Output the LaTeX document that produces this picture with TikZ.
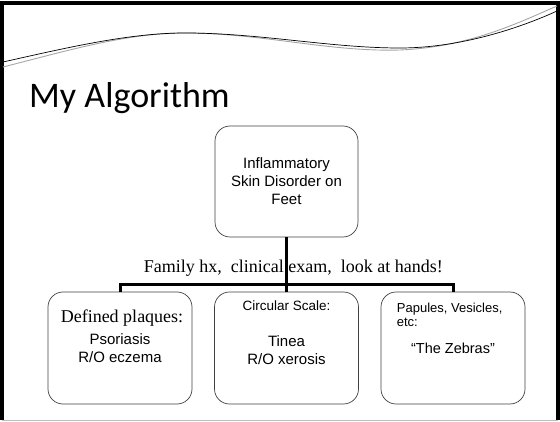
\documentclass[tikz,border=0pt]{standalone}
\usepackage{fontspec}
\setmainfont{Liberation Sans}
\newfontfamily\serif{Liberation Serif}
\newfontfamily\titlefont{Carlito}
\usetikzlibrary{positioning}

\tikzset{
  box/.style={draw=black!75, line width=0.7pt, rounded corners=15pt,
    minimum width=144pt, minimum height=112pt, inner sep=0pt},
  conn/.style={line width=3pt},
  every node/.append style={inner sep=0pt}
}

\begin{document}
\begin{tikzpicture}[x=1pt,y=-1pt]
\useasboundingbox (0,0) rectangle (560,422);
% slide frame
\draw[line width=3.5pt] (2,420) -- (2,3) -- (558,3) -- (558,420);
\draw[black!25, line width=1pt] (2,420.5) -- (558,420.5);
% wave
\draw[black!35, line width=0.9pt] (3,67) .. controls (70,50) and (130,32) .. (190,33)
  .. controls (265,34) and (330,52) .. (400,50) .. controls (470,47) and (520,22) .. (557,6);
\draw[line width=0.7pt] (3,62) .. controls (70,47) and (130,33) .. (185,33)
  .. controls (260,33) and (330,48) .. (400,48) .. controls (460,48) and (520,28) .. (557,11);

\node[anchor=base west, font=\titlefont\fontsize{36}{40}\selectfont] (title) at (29,108) {My Algorithm};

\node[box, minimum width=143pt, minimum height=111pt, align=center,
  font=\fontsize{15}{18}\selectfont] (root) at (286.5,181.5) {Inflammatory\\Skin Disorder on\\Feet};

\node[box] (plaques) at (120,348) {};
\node[box] (scale) at (286.5,348) {};
\node[box] (zebras) at (453,348) {};

\node[anchor=base, font=\serif\fontsize{18}{20}\selectfont] (hint) at (293.3,273)
  {Family hx,\ \ clinical exam,\ \ look at hands!};

% connectors
\coordinate (hub) at (286.5,285);
\draw[conn] (root.south) -- (scale.north);
\draw[conn] (plaques.north) |- (hub) -| (zebras.north);

% box texts
\node[anchor=base, font=\serif\fontsize{18}{20}\selectfont] (plaqueshead) at (122,323) {Defined plaques:};
\node[anchor=north, align=center, font=\fontsize{15}{18.5}\selectfont] (plaquesbody) at (120,333) {Psoriasis\\R/O eczema};

\node[anchor=base, font=\fontsize{13.5}{16}\selectfont] (scalehead) at (286.5,311) {Circular Scale:};
\node[anchor=north, align=center, font=\fontsize{15}{17.5}\selectfont] (scalebody) at (286.5,335.5) {Tinea\\R/O xerosis};

\node[anchor=north west, align=left, font=\fontsize{13}{14.5}\selectfont] (zebrashead) at (396.7,302.5) {Papules, Vesicles,\\etc:};
\node[anchor=base, font=\fontsize{14.5}{16}\selectfont] (zebrasbody) at (453,353) {“The Zebras”};
\end{tikzpicture}
\end{document}
